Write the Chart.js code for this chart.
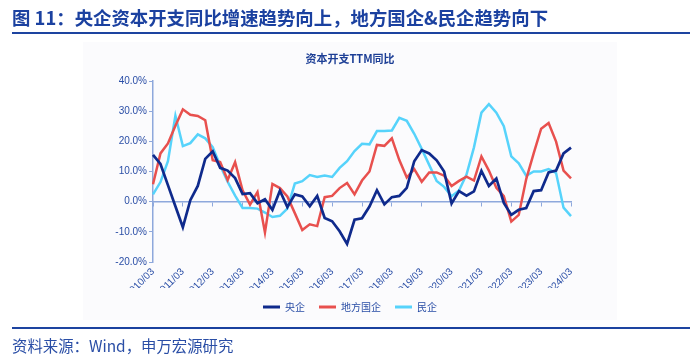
<!DOCTYPE html>
<html>
<head>
<meta charset="utf-8">
<script src="https://cdn.jsdelivr.net/npm/chart.js@4.4.1/dist/chart.umd.min.js"></script>
<style>
  html, body { margin: 0; padding: 0; background: #ffffff; }
  #wrap { position: relative; width: 700px; height: 362px; overflow: hidden; font-family: 'Noto Sans CJK SC', 'Liberation Sans', sans-serif; }
  #bg { position: absolute; left: 83px; top: 42px; width: 534px; height: 278px; background: #fbfbfd; }
  #title { position: absolute; left: 12px; top: 6px; font-size: 18.4px; line-height: 22px; font-weight: bold; color: #1b41a0; white-space: nowrap; }
  #line1 { position: absolute; left: 12px; top: 32px; width: 678px; height: 2px; background: #1d44a0; }
  #line2 { position: absolute; left: 12px; top: 327px; width: 678px; height: 2px; background: #1d44a0; }
  #foot { position: absolute; left: 12px; top: 335px; font-size: 15.4px; line-height: 20px; color: #2a4ea6; white-space: nowrap; }
  #c { position: absolute; left: 0; top: 0; }
</style>
</head>
<body>
<div id="wrap">
  <div id="bg"></div>
  <canvas id="c" width="700" height="362"></canvas>
  <div id="title">图 11：央企资本开支同比增速趋势向上，地方国企&amp;民企趋势向下</div>
  <div id="line1"></div>
  <div id="line2"></div>
  <div id="foot">资料来源：Wind，申万宏源研究</div>
</div>
<script>
const chartTitle = '资本开支TTM同比';

const quarters = [
  '2010/03','2010/06','2010/09','2010/12',
  '2011/03','2011/06','2011/09','2011/12',
  '2012/03','2012/06','2012/09','2012/12',
  '2013/03','2013/06','2013/09','2013/12',
  '2014/03','2014/06','2014/09','2014/12',
  '2015/03','2015/06','2015/09','2015/12',
  '2016/03','2016/06','2016/09','2016/12',
  '2017/03','2017/06','2017/09','2017/12',
  '2018/03','2018/06','2018/09','2018/12',
  '2019/03','2019/06','2019/09','2019/12',
  '2020/03','2020/06','2020/09','2020/12',
  '2021/03','2021/06','2021/09','2021/12',
  '2022/03','2022/06','2022/09','2022/12',
  '2023/03','2023/06','2023/09','2023/12',
  '2024/03'
];

const seriesNames = ['央企', '地方国企', '民企'];

const centralSOE = [
  15.5, 12.5, 5.5, -1.5, -8.5, 0.5, 5.2, 14.2,
  16.7, 11.2, 10.3, 7.8, 2.5, 2.8, -0.5, 0.8,
  -2.7, 3.6, -1.8, 2.4, 1.7, -1.5, 1.9, -5.4,
  -6.5, -9.8, -14.0, -6.0, -5.5, -1.6, 3.8, -0.9,
  1.5, 1.9, 4.6, 13.4, 17.1, 16.0, 13.7, 10.0,
  -0.6, 3.5, 2.0, 3.4, 10.2, 5.2, 7.7, -0.4,
  -4.4, -2.7, -2.1, 3.5, 3.8, 9.7, 10.3, 16.0,
  17.9
];

const localSOE = [
  5.8, 16.0, 19.3, 25.2, 30.6, 28.8, 28.4, 27.0,
  13.7, 13.1, 7.2, 13.1, 3.8, -1.0, 3.2, -10.2,
  5.9, 4.5, 1.7, -3.8, -9.4, -7.5, -8.1, 1.5,
  1.9, 4.5, 6.2, 2.4, 7.0, 10.0, 18.8, 18.5,
  21.0, 13.8, 8.0, 10.8, 6.6, 9.7, 9.7, 8.6,
  5.2, 6.9, 8.3, 7.0, 15.0, 10.3, 4.6, 1.8,
  -6.6, -4.4, 7.5, 16.0, 24.2, 26.1, 19.9, 10.3,
  7.7
];

const privateEnt = [
  2.4, 6.5, 13.4, 28.5, 18.4, 19.4, 22.3, 21.0,
  18.1, 12.0, 6.6, 2.0, -2.1, -2.1, -2.3, -3.6,
  -5.1, -4.7, -2.3, 6.0, 6.8, 8.8, 8.2, 8.7,
  8.2, 11.2, 13.4, 16.8, 19.2, 19.0, 23.4, 23.4,
  23.6, 27.8, 26.8, 22.5, 17.5, 12.2, 6.9, 4.9,
  1.8, 3.7, 9.0, 18.0, 29.5, 32.3, 29.5, 25.0,
  15.0, 12.7, 8.6, 10.0, 10.0, 10.8, 9.5, -2.0,
  -4.8
];

const yTicks = { min: -20, max: 40, step: 10 };

const navy = '#0f2a8c';
const red = '#e8504e';
const cyan = '#56d3fb';
const axisBlue = '#8ea8dc';
const textBlue = '#2a4ea6';
const fontFamily = "'Liberation Sans', 'Noto Sans CJK SC', sans-serif";

function ds(label, data, color, width) {
  return {
    label: label, data: data,
    borderColor: color, backgroundColor: color,
    borderWidth: width, pointRadius: 0, pointHoverRadius: 0,
    tension: 0, fill: false
  };
}

new Chart(document.getElementById('c').getContext('2d'), {
  type: 'line',
  data: {
    labels: quarters,
    datasets: [
      ds(seriesNames[0], centralSOE, navy, 2.7),
      ds(seriesNames[1], localSOE, red, 2.5),
      ds(seriesNames[2], privateEnt, cyan, 2.5)
    ]
  },
  options: {
    responsive: false,
    animation: false,
    devicePixelRatio: 1,
    layout: { padding: { left: 10, right: 10, top: 0, bottom: 40 } },
    plugins: {
      title: {
        display: true, text: chartTitle, color: '#1d3f96',
        font: { size: 11, weight: 'bold', family: "'Noto Sans CJK SC', sans-serif", lineHeight: 1.2 },
        padding: { top: 52, bottom: 15.8 }
      },
      legend: {
        position: 'bottom',
        labels: {
          boxWidth: 17, boxHeight: 3, padding: 14, color: textBlue,
          font: { size: 10, family: "'Noto Sans CJK SC', sans-serif" },
          generateLabels: function(chart) {
            const items = Chart.defaults.plugins.legend.labels.generateLabels(chart);
            items.forEach(it => { it.lineWidth = 0; it.strokeStyle = 'rgba(0,0,0,0)'; });
            return items;
          }
        }
      },
      tooltip: { enabled: false }
    },
    scales: {
      x: {
        type: 'category', offset: false,
        grid: { display: false, drawTicks: false },
        border: { display: false },
        ticks: {
          autoSkip: false, maxRotation: 45, minRotation: 45, padding: 4,
          color: textBlue, font: { size: 10, family: fontFamily },
          callback: function(v, i) { return i % 4 === 0 ? quarters[i] : ''; }
        },
        afterFit: function(s) { s.height = 26; }
      },
      x2: {
        type: 'category', offset: false, position: { y: 0 },
        ticks: { display: false },
        grid: {
          drawOnChartArea: false, drawTicks: true, tickLength: 4, tickWidth: 1,
          tickColor: function(ctx) { return ctx.index % 4 === 0 ? axisBlue : 'rgba(0,0,0,0)'; }
        },
        border: { color: axisBlue, width: 1.5 }
      },
      y: {
        min: yTicks.min, max: yTicks.max,
        ticks: {
          stepSize: yTicks.step, padding: 2, color: textBlue,
          font: { size: 10, family: fontFamily },
          callback: function(v) { return v.toFixed(1) + '%'; }
        },
        grid: { drawOnChartArea: false, drawTicks: true, tickLength: 4, color: axisBlue },
        border: { color: axisBlue, width: 1.5 },
        afterFit: function(s) { s.width = 143; }
      },
      y2: {
        position: 'right', display: true,
        grid: { display: false }, border: { display: false },
        ticks: { display: false },
        afterFit: function(s) { s.width = 119; }
      }
    }
  }
});
</script>
</body>
</html>
